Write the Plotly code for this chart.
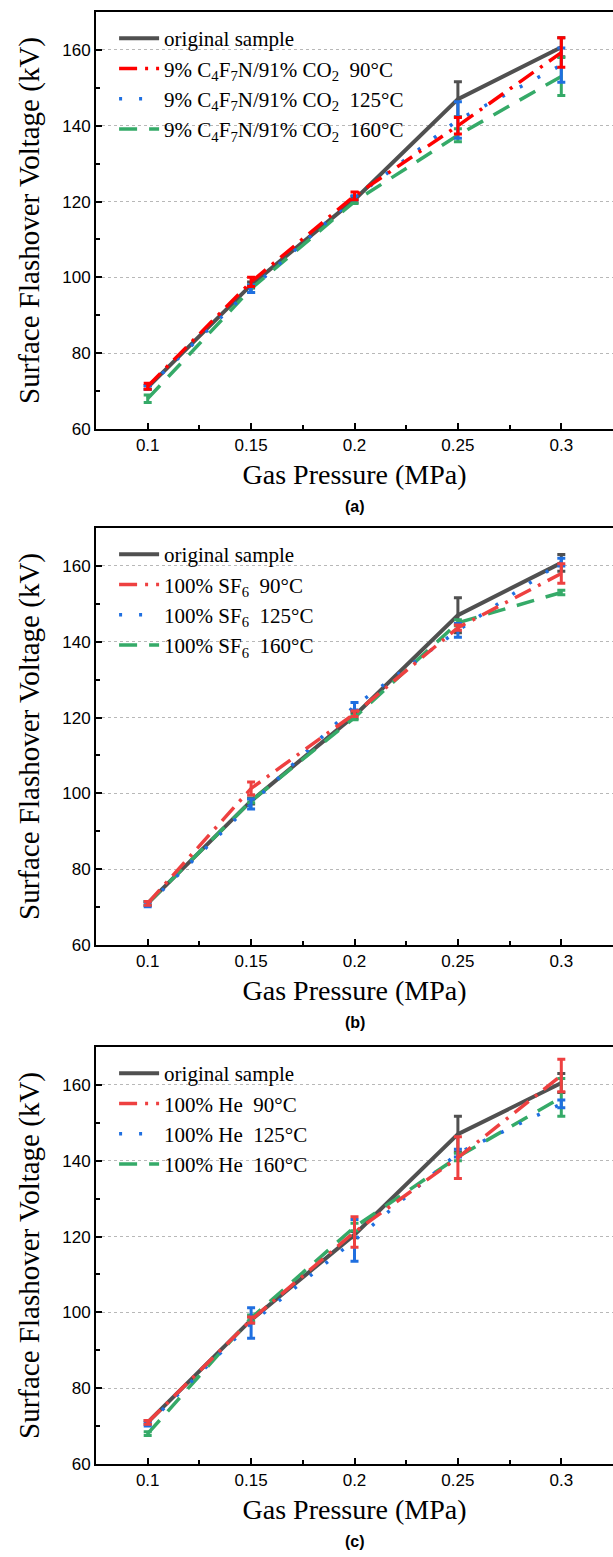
import plotly.graph_objects as go

pressure = [0.1, 0.15, 0.2, 0.25, 0.3]

# Panel (a): 9% C4F7N/91% CO2
a_orig = [71.0, 98.0, 120.5, 147.0, 160.7]
a_orig_err = [0.5, 0.8, 0.8, 4.6, 2.5]
a_90 = [71.3, 98.8, 121.5, 140.0, 159.3]
a_90_err = [0.8, 1.2, 1.0, 2.2, 3.9]
a_125 = [71.0, 97.0, 121.0, 141.5, 156.0]
a_125_err = [0.5, 1.0, 0.5, 4.8, 4.5]
a_160 = [68.0, 97.0, 120.0, 137.5, 153.0]
a_160_err = [1.0, 1.0, 0.5, 1.7, 5.0]

# Panel (b): 100% SF6
b_orig = [71.0, 98.0, 120.5, 147.0, 160.8]
b_orig_err = [0.5, 0.8, 0.8, 4.6, 2.2]
b_90 = [71.0, 101.3, 121.0, 143.7, 158.0]
b_90_err = [0.5, 1.7, 0.7, 0.7, 2.6]
b_125 = [70.7, 97.2, 123.0, 143.0, 161.0]
b_125_err = [0.6, 1.3, 1.0, 1.8, 1.0]
b_160 = [71.0, 98.0, 120.0, 145.0, 153.0]
b_160_err = [0.5, 0.5, 0.6, 0.8, 0.6]

# Panel (c): 100% He
c_orig = [71.0, 98.0, 120.5, 147.0, 160.5]
c_orig_err = [0.5, 0.8, 0.8, 4.7, 2.5]
c_90 = [71.0, 98.0, 121.2, 140.8, 162.5]
c_90_err = [0.5, 0.8, 4.0, 5.5, 4.3]
c_125 = [70.5, 97.2, 119.0, 142.0, 155.0]
c_125_err = [0.5, 4.0, 5.5, 1.0, 1.0]
c_160 = [68.0, 98.5, 122.5, 141.0, 156.7]
c_160_err = [0.5, 0.8, 1.0, 1.0, 5.0]

labels_a = ["original sample",
            "9% C<sub>4</sub>F<sub>7</sub>N/91% CO<sub>2</sub>\u00a0\u00a090°C",
            "9% C<sub>4</sub>F<sub>7</sub>N/91% CO<sub>2</sub>\u00a0\u00a0125°C",
            "9% C<sub>4</sub>F<sub>7</sub>N/91% CO<sub>2</sub>\u00a0\u00a0160°C"]
labels_b = ["original sample",
            "100% SF<sub>6</sub>\u00a0\u00a090°C",
            "100% SF<sub>6</sub>\u00a0\u00a0125°C",
            "100% SF<sub>6</sub>\u00a0\u00a0160°C"]
labels_c = ["original sample",
            "100% He\u00a0\u00a090°C",
            "100% He\u00a0\u00a0125°C",
            "100% He\u00a0\u00a0160°C"]
panel_tags = ["(a)", "(b)", "(c)"]

GRAY = "#505050"
BLUE = "#1f6fe0"
GREEN = "#35aa68"
RED_A = "#ff0000"
RED_BC = "#ee4040"

SERIF = "Liberation Serif"
SANS = "Liberation Sans"

fig = go.Figure()

panels = [
    ("", "legend", labels_a, RED_A, [(a_orig, a_orig_err), (a_90, a_90_err), (a_125, a_125_err), (a_160, a_160_err)]),
    ("2", "legend2", labels_b, RED_BC, [(b_orig, b_orig_err), (b_90, b_90_err), (b_125, b_125_err), (b_160, b_160_err)]),
    ("3", "legend3", labels_c, RED_BC, [(c_orig, c_orig_err), (c_90, c_90_err), (c_125, c_125_err), (c_160, c_160_err)]),
]

styles = [
    dict(width=4, dash="solid"),
    dict(width=3.5, dash="18px,8px,3px,8px"),
    dict(width=3.5, dash="3px,17px"),
    dict(width=3.5, dash="18px,12px"),
]

draw_order = [0, 3, 2, 1]
for suffix, leg, labels, red, series in panels:
    colors = [GRAY, red, BLUE, GREEN]
    for idx in draw_order:
        vals, errs = series[idx]
        fig.add_trace(go.Scatter(
            x=pressure, y=vals, mode="lines", name=labels[idx],
            line=dict(color=colors[idx], **styles[idx]),
            error_y=dict(type="data", array=errs, visible=True, color=colors[idx], thickness=3, width=4),
            xaxis="x" + suffix, yaxis="y" + suffix, legend=leg, legendrank=idx + 1,
        ))

W, H = 613, 1557
mt, mb, ml, mr = 12, 93, 96, 0
ph = H - mt - mb
pw = W - ml - mr

def py(y):
    return (H - mb - y) / ph

domains = [(py(429), py(12)), (py(945), py(528)), (py(1464), py(1047))]

axis_common = dict(
    showline=True, linecolor="black", linewidth=2, mirror=True,
    ticks="inside", ticklen=6, tickwidth=2, tickcolor="black",
    tickfont=dict(family=SANS, size=17, color="black"),
    zeroline=False, automargin=False,
)

layout = dict(
    width=W, height=H, margin=dict(l=ml, r=mr, t=mt, b=mb, autoexpand=False),
    paper_bgcolor="white", plot_bgcolor="white", showlegend=True,
)

for i, (suffix, leg, labels, red, series) in enumerate(panels):
    d0, d1 = domains[i]
    layout["xaxis" + suffix] = dict(
        axis_common, domain=[0, 1], anchor="y" + suffix, range=[0.075, 0.325],
        tick0=0.1, dtick=0.05, showgrid=False,
        minor=dict(ticks="inside", ticklen=4, tickwidth=1.5, tickcolor="black", dtick=0.025, tick0=0.1, showgrid=False),
        title=dict(text="Gas Pressure (MPa)", font=dict(family=SERIF, size=28, color="black"), standoff=10),
    )
    layout["yaxis" + suffix] = dict(
        axis_common, domain=[d0, d1], anchor="x" + suffix, range=[60, 170],
        tick0=60, dtick=20, showgrid=True, gridcolor="#b8b8b8", gridwidth=1, griddash="dot",
        minor=dict(ticks="inside", ticklen=4, tickwidth=1.5, tickcolor="black", dtick=10, tick0=60, showgrid=False),
        title=dict(text="Surface Flashover Voltage (kV)", font=dict(family=SERIF, size=29, color="black"), standoff=14),
    )
    layout[leg] = dict(
        x=0.035, y=d1 - 6 / ph, xanchor="left", yanchor="top",
        bgcolor="rgba(0,0,0,0)", borderwidth=0,
        font=dict(family=SERIF, size=21, color="black"),
        traceorder="normal", itemwidth=40, tracegroupgap=0,
    )

fig.update_layout(**layout)

tag_y = [506, 1022, 1541]
for t, yy in zip(panel_tags, tag_y):
    fig.add_annotation(text="<b>" + t + "</b>", x=0.5, xref="paper", y=py(yy), yref="paper",
                       showarrow=False, font=dict(family=SANS, size=16, color="black"),
                       xanchor="center", yanchor="middle")

fig.write_html("out.html", config={"displayModeBar": False},
               post_script="document.body.style.margin='0';document.body.style.padding='0';document.body.style.overflow='hidden';")
